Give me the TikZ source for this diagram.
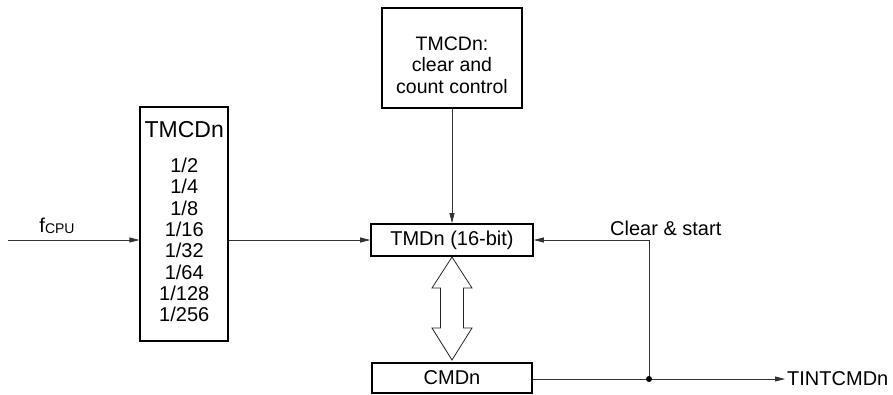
\documentclass[tikz,border=0pt]{standalone}
\usepackage{fontspec}
\setmainfont{Liberation Sans}
\usetikzlibrary{arrows.meta}
\begin{document}
\begin{tikzpicture}[x=1pt,y=-1pt,
  every node/.style={font=\fontsize{20}{24}\selectfont, inner sep=0pt},
  blk/.style={draw=black, line width=1.6pt, rectangle},
  wire/.style={draw=black!80, line width=0.8pt},
  sig/.style={wire, -{Triangle[length=10pt,width=5pt]}},
  lbl/.style={align=center}]
\useasboundingbox (0,0) rectangle (893,394);

% prescaler block
\node[blk, minimum width=88pt, minimum height=234pt] (presc) at (184.25,224) {};
\node[font=\fontsize{23}{27}\selectfont] (prescname) at (184.25,130) {TMCDn};
\node[lbl, font=\fontsize{20}{21.3}\selectfont] (ratios) at (184.25,240)
  {1/2\\1/4\\1/8\\1/16\\1/32\\1/64\\1/128\\1/256};

% clear and count control block
\node[blk, minimum width=140pt, minimum height=100pt] (ctl) at (452,58) {};
\node[lbl, font=\fontsize{19.5}{21.5}\selectfont] (ctltext) at (452,65)
  {TMCDn:\\clear and\\count control};

% timer register and compare register
\node[blk, minimum width=162pt, minimum height=32pt] (tmd) at (452,240) {TMDn (16-bit)};
\node[blk, minimum width=160pt, minimum height=30pt] (cmd) at (452,378) {CMDn};

% clock input
\coordinate (fin) at (8,240);
\draw[sig] (fin) -- (presc.west |- fin);
\node (fcpu) at (57,226) {f\raisebox{-1.5pt}{\fontsize{14}{16}\selectfont CPU}};

% prescaler output to timer
\draw[sig] (presc.east |- tmd.west) -- (tmd.west);

% control to timer
\draw[sig] (ctl.south) -- (ctl.south |- tmd.north);

% bidirectional transfer arrow between timer and compare register
\draw[black!85, line width=0.8pt, fill=white]
  (452,257) -- (472,288) -- (463.5,288) -- (463.5,328) -- (472,328)
  -- (452,360) -- (432,328) -- (440.5,328) -- (440.5,288) -- (432,288) -- cycle;

% compare output, interrupt and clear & start feedback
\coordinate (tap) at (649,379);
\coordinate (tapup) at (649,240);
\coordinate (outend) at (785,379);
\draw[wire] (cmd.east |- tap) -- (tap);
\draw[sig] (tap) -- (outend);
\draw[sig] (tap) -- (tapup) -- (tmd.east);
\fill (tap) circle (3pt);
\node[anchor=west] (tint) at (787,379) {TINTCMDn};
\node[anchor=west] (clr) at (610,228) {Clear \& start};
\end{tikzpicture}
\end{document}
